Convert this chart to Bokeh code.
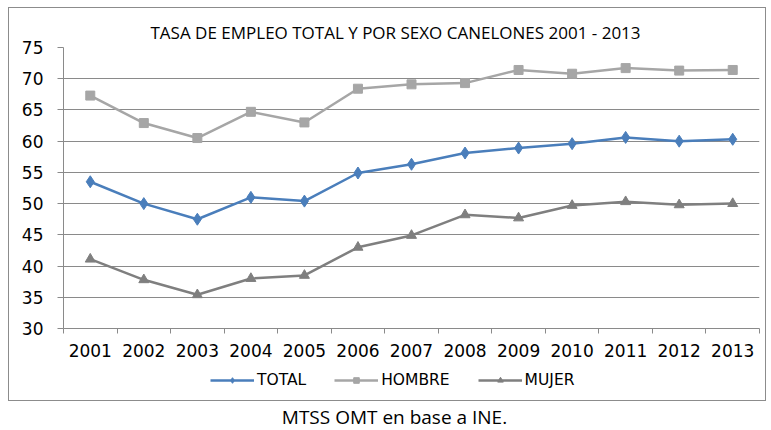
from bokeh.plotting import figure
from bokeh.models import (FixedTicker, Legend, LegendItem, Range1d, Div, Spacer)
from bokeh.layouts import column, row
from bokeh.embed import file_html
from bokeh.resources import INLINE

years = [2001, 2002, 2003, 2004, 2005, 2006, 2007, 2008, 2009, 2010, 2011, 2012, 2013]
total = [53.5, 50.0, 47.5, 51.0, 50.4, 54.9, 56.3, 58.1, 58.9, 59.6, 60.6, 60.0, 60.3]
hombre = [67.3, 62.9, 60.5, 64.7, 63.0, 68.4, 69.1, 69.3, 71.4, 70.8, 71.7, 71.3, 71.4]
mujer = [41.1, 37.8, 35.4, 38.0, 38.5, 43.0, 44.9, 48.2, 47.7, 49.7, 50.3, 49.8, 50.0]
y_ticks = [30, 35, 40, 45, 50, 55, 60, 65, 70, 75]
series_names = ["TOTAL", "HOMBRE", "MUJER"]
title_text = "TASA DE EMPLEO TOTAL Y POR SEXO CANELONES 2001 - 2013"
caption_text = "MTSS OMT en base a INE."

C_TOTAL = "#4a7ebb"
C_HOMBRE = "#a6a6a6"
C_MUJER = "#7f7f7f"
GRID = "#8a8a8a"
BOX = "1px solid #8c8c8c"

p = figure(width=758, height=357, output_backend="svg", toolbar_location=None,
           x_range=Range1d(years[0] - 0.5, years[-1] + 0.5),
           y_range=Range1d(y_ticks[0], y_ticks[-1]),
           min_border_left=54, min_border_right=8, min_border_top=39, min_border_bottom=37)
p.styles = {"border": BOX, "border-bottom": "none"}
p.outline_line_color = None

p.title.text = title_text
p.title.align = "left"
p.title.offset = 87
p.title.text_font = "Open Sans"
p.title.text_font_size = "17px"
p.title.text_font_style = "normal"
p.title.text_color = "#000000"
p.title.standoff = 8

# axes
p.xaxis.ticker = FixedTicker(ticks=years, minor_ticks=[y + 0.5 for y in [years[0] - 1] + years])
p.xaxis.major_label_overrides = {y: str(y) for y in years}
p.xaxis.major_tick_out = 0
p.xaxis.major_tick_in = 0
p.xaxis.minor_tick_out = 5
p.xaxis.minor_tick_in = 0
p.xaxis.minor_tick_line_color = GRID
p.xaxis.axis_line_color = GRID
p.xaxis.major_label_standoff = 10
p.yaxis.ticker = FixedTicker(ticks=y_ticks)
p.yaxis.major_tick_out = 6
p.yaxis.major_tick_in = 0
p.yaxis.major_tick_line_color = GRID
p.yaxis.axis_line_color = GRID
p.yaxis.minor_tick_line_color = None
p.yaxis.major_label_standoff = 14
for ax in (p.xaxis, p.yaxis):
    ax.major_label_text_font = "DejaVu Sans"
    ax.major_label_text_font_size = "17px"
    ax.major_label_text_color = "#000000"

p.xgrid.grid_line_color = None
p.ygrid.grid_line_color = GRID
p.ygrid.grid_line_width = 1

styles = [("diamond", 12, C_TOTAL, total), ("square", 9, C_HOMBRE, hombre), ("triangle", 10, C_MUJER, mujer)]
for marker, size, color, vals in styles:
    p.line(years, vals, line_color=color, line_width=2.5)
    p.scatter(years, vals, marker=marker, size=size, fill_color=color, line_color=color)

# legend strip (still inside the chart box), drawn with the same series styles
lf = figure(width=758, height=37, output_backend="svg", toolbar_location=None,
            x_range=Range1d(0, 1), y_range=Range1d(0, 1),
            x_axis_location=None, y_axis_location=None, min_border=0)
lf.styles = {"border": BOX, "border-top": "none"}
lf.outline_line_color = None
lf.grid.visible = False
items = []
for name, (marker, size, color, vals) in zip(series_names, styles):
    lr = lf.line(years, vals, line_color=color, line_width=2.5)
    mr = lf.scatter(years, vals, marker=marker, size=size * 0.75, fill_color=color, line_color=color)
    items.append(LegendItem(label=name, renderers=[lr, mr]))

legend = Legend(items=items, orientation="horizontal", location=(147, 12),
                glyph_width=44, glyph_height=14, label_height=14,
                label_standoff=3, spacing=28, padding=0, margin=0,
                border_line_color=None, background_fill_alpha=0,
                label_text_font="DejaVu Sans", label_text_font_size="15.5px",
                label_text_color="#000000")
lf.add_layout(legend, "center")

cap = Div(text=caption_text, width=758, height=22,
          styles={"font-family": "Open Sans", "font-size": "19px", "text-align": "center",
                  "line-height": "22px", "color": "#000000", "padding-top": "0px",
                  "padding-left": "5px", "overflow": "visible"})

layout = row(Spacer(width=8), column(Spacer(height=7), p, lf, cap, spacing=0), spacing=0)
open("out.html", "w").write(file_html(layout, INLINE))
